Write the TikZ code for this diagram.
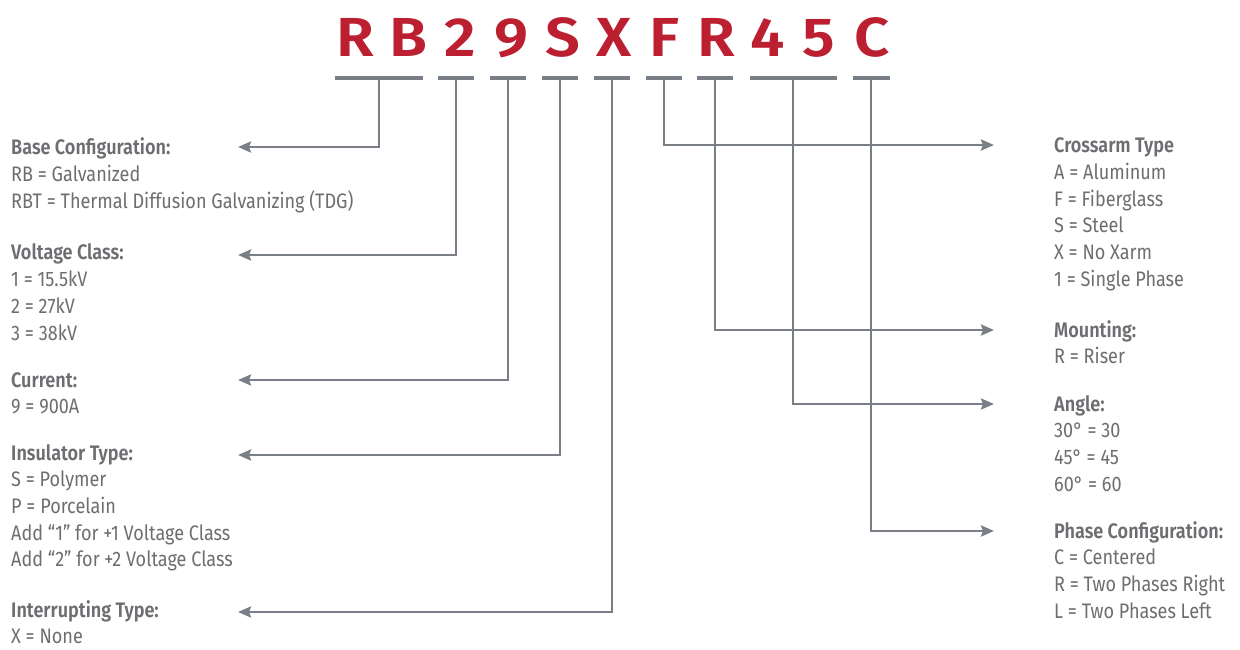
\documentclass[tikz,border=0pt]{standalone}
\usepackage{fontspec}
\setmainfont{Fira Sans}[FakeStretch=0.86, BoldFont={Fira Sans SemiBold}]
\newfontfamily\codefont{Fira Sans SemiBold}[FakeStretch=1.12]
\usetikzlibrary{arrows.meta}
\definecolor{codered}{HTML}{BC1F30}
\definecolor{txtgray}{HTML}{6D6E71}
\definecolor{lngray}{HTML}{7A7E86}
\begin{document}
\begin{tikzpicture}[x=1pt,y=-1pt,
  code/.style={font=\codefont\fontsize{55}{55}\selectfont, text=codered, anchor=base, inner sep=0},
  barnode/.style={fill=lngray, inner sep=0, minimum height=3.5pt, minimum width=#1},
  conn/.style={draw=lngray, line width=2.7pt, -{Stealth[length=13pt,width=11pt,inset=2pt]}},
  desc/.style={font=\fontsize{21}{26.67}\selectfont, text=txtgray, align=left, anchor=base west, inner sep=0}]
\useasboundingbox (0,0) rectangle (1240,649);
\fill[white] (0,0) rectangle (1240,649);
% code letters
\node[code] (l1) at (355,56) {R};
\node[code] (l2) at (408,56) {B};
\node[code] (l3) at (460,56) {2};
\node[code] (l4) at (511,56) {9};
\node[code] (l5) at (563,56) {S};
\node[code] (l6) at (614,56) {X};
\node[code] (l7) at (665,56) {F};
\node[code] (l8) at (716,56) {R};
\node[code] (l9) at (768,56) {4};
\node[code] (l10) at (819,56) {5};
\node[code] (l11) at (872,56) {C};
% bars
\node[barnode=88pt] (b1) at (379,78) {};
\node[barnode=36pt] (b2) at (456,78) {};
\node[barnode=36pt] (b3) at (508,78) {};
\node[barnode=36pt] (b4) at (560,78) {};
\node[barnode=36pt] (b5) at (612,78) {};
\node[barnode=36pt] (b6) at (664,78) {};
\node[barnode=36pt] (b7) at (715,78) {};
\node[barnode=87pt] (b8) at (793,78) {};
\node[barnode=37pt] (b9) at (871,78) {};
% left descriptions (anchored at the baseline of their last line)
\node[desc] (base) at (11,208.3) {\textbf{Base Configuration:}\\RB = Galvanized\\RBT = Thermal Diffusion Galvanizing (TDG)};
\node[desc] (volt) at (11,340) {\textbf{Voltage Class:}\\1 = 15.5kV\\2 = 27kV\\3 = 38kV};
\node[desc] (curr) at (11,413.7) {\textbf{Current:}\\9 = 900A};
\node[desc] (insu) at (11,566.7) {\textbf{Insulator Type:}\\S = Polymer\\P = Porcelain\\Add “1” for +1 Voltage Class\\Add “2” for +2 Voltage Class};
\node[desc] (intr) at (11,643.7) {\textbf{Interrupting Type:}\\X = None};
% right descriptions
\node[desc] (cross) at (1054,286.3) {\textbf{Crossarm Type}\\A = Aluminum\\F = Fiberglass\\S = Steel\\X = No Xarm\\1 = Single Phase};
\node[desc] (mount) at (1054,363.7) {\textbf{Mounting:}\\R = Riser};
\node[desc] (angle) at (1054,491) {\textbf{Angle:}\\30° = 30\\45° = 45\\60° = 60};
\node[desc] (phase) at (1054,618) {\textbf{Phase Configuration:}\\C = Centered\\R = Two Phases Right\\L = Two Phases Left};
% arrow tips
\coordinate (tbase) at (238,147);
\coordinate (tvolt) at (238,255);
\coordinate (tcurr) at (238,380);
\coordinate (tinsu) at (238,455);
\coordinate (tintr) at (238,612);
\coordinate (tcross) at (994,145);
\coordinate (tmount) at (994,330);
\coordinate (tangle) at (994,404);
\coordinate (tphase) at (994,531);
% connectors
\draw[conn] (b1.south) |- (tbase);
\draw[conn] (b2.south) |- (tvolt);
\draw[conn] (b3.south) |- (tcurr);
\draw[conn] (b4.south) |- (tinsu);
\draw[conn] (b5.south) |- (tintr);
\draw[conn] (b6.south) |- (tcross);
\draw[conn] (b7.south) |- (tmount);
\draw[conn] (b8.south) |- (tangle);
\draw[conn] (b9.south) |- (tphase);
\end{tikzpicture}
\end{document}
